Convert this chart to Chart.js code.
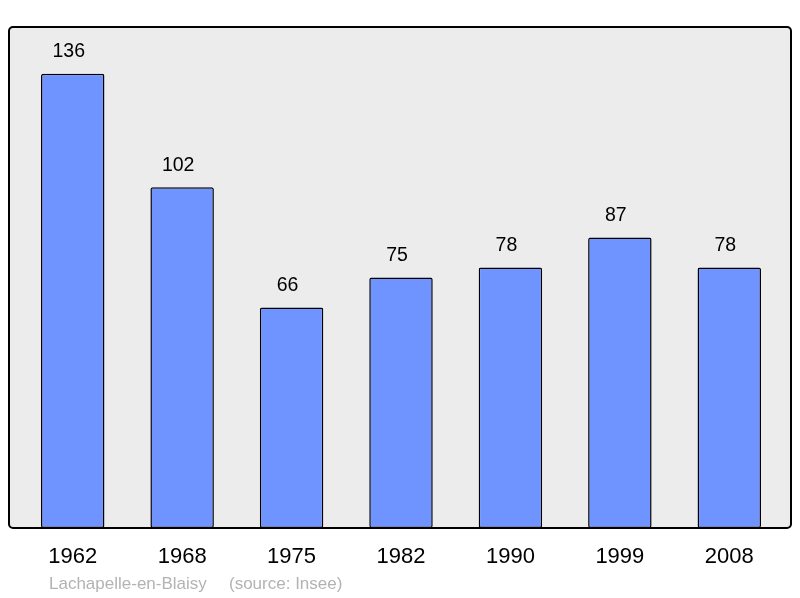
<!DOCTYPE html>
<html>
<head>
<meta charset="utf-8">
<script src="https://cdn.jsdelivr.net/npm/chart.js@4"></script>
<style>
  html, body { margin: 0; padding: 0; background: #fff; }
  #wrap { width: 800px; height: 598px; }
</style>
</head>
<body>
<div id="wrap"><canvas id="c"></canvas></div>
<script>
const years = ["1962", "1968", "1975", "1982", "1990", "1999", "2008"];
const population = [136, 102, 66, 75, 78, 87, 78];
const placeName = "Lachapelle-en-Blaisy";
const sourceText = "(source: Insee)";

// frame behind the bars + the text around them
const framePlugin = {
  id: "frame",
  beforeDraw(chart) {
    const { ctx, chartArea } = chart;
    const x0 = 9, x1 = 791, y0 = chartArea.top, y1 = chartArea.bottom;
    ctx.save();
    ctx.beginPath();
    ctx.roundRect(x0, y0, x1 - x0, y1 - y0, 4);
    ctx.fillStyle = "#ececec";
    ctx.fill();
    ctx.restore();
  },
  afterDatasetsDraw(chart) {
    const { ctx, chartArea } = chart;
    const x0 = 9, x1 = 791, y0 = chartArea.top, y1 = chartArea.bottom;
    ctx.save();
    ctx.beginPath();
    ctx.roundRect(x0, y0, x1 - x0, y1 - y0, 4);
    ctx.lineWidth = 2;
    ctx.strokeStyle = "#000";
    ctx.stroke();

    const meta = chart.getDatasetMeta(0);
    ctx.fillStyle = "#000";
    ctx.textAlign = "center";
    ctx.textBaseline = "middle";
    ctx.font = "19.5px 'Liberation Sans', Arial, sans-serif";
    meta.data.forEach((bar, i) => {
      ctx.fillText(String(population[i]), bar.x - 4, bar.y - 22);
    });
    ctx.font = "22px 'Liberation Sans', Arial, sans-serif";
    meta.data.forEach((bar, i) => {
      ctx.fillText(years[i], bar.x, 557);
    });
    ctx.fillStyle = "#b3b3b3";
    ctx.textAlign = "left";
    ctx.font = "17px 'Liberation Sans', Arial, sans-serif";
    ctx.fillText(placeName, 49, 584);
    ctx.fillText(sourceText, 229, 584);
    ctx.restore();
  }
};

new Chart(document.getElementById("c"), {
  type: "bar",
  data: {
    labels: years,
    datasets: [{
      data: population,
      backgroundColor: "#7094ff",
      borderColor: "#000",
      borderWidth: 1.5,
      borderRadius: 2,
      borderSkipped: false,
      barPercentage: 0.58,
      categoryPercentage: 1
    }]
  },
  options: {
    responsive: true,
    maintainAspectRatio: false,
    animation: false,
    layout: { padding: { left: 18, right: 16, top: 27, bottom: 70 } },
    plugins: { legend: { display: false }, tooltip: { enabled: false } },
    scales: {
      x: { display: false },
      y: { display: false, min: 0, max: 150 }
    }
  },
  plugins: [framePlugin]
});
</script>
</body>
</html>
